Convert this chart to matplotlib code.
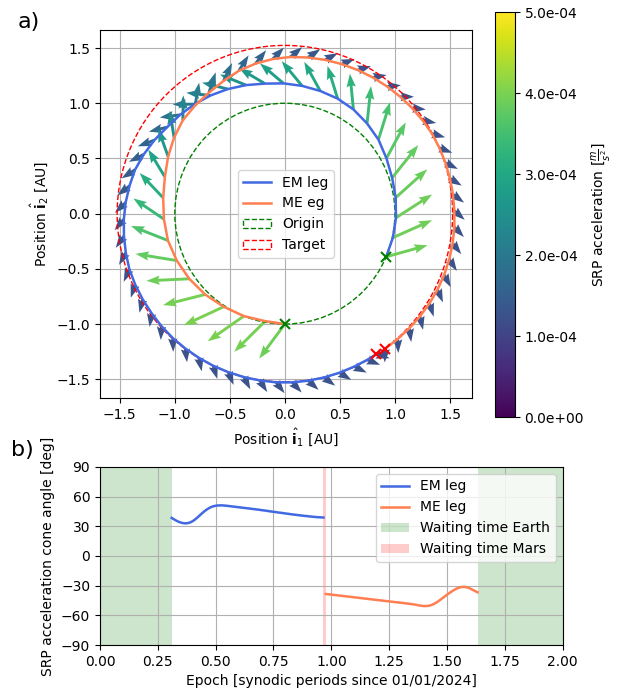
import numpy as np
import matplotlib
matplotlib.use("Agg")
import matplotlib.pyplot as plt
from matplotlib.lines import Line2D

# Earth -> Mars leg, sampled at equal time steps (polar angle [deg], radius [AU])
em_theta = [-23.0, -12.5, -2.1, 8.2, 18.4, 28.5, 38.3, 47.6, 56.6, 65.3, 73.9, 82.3,
            90.6, 98.8, 106.9, 114.7, 122.3, 129.6, 136.8, 143.8, 150.7, 157.3, 163.7, 169.9,
            176.0, 182.0, 187.9, 193.8, 199.6, 205.3, 211.0, 216.7, 222.3, 227.9, 233.5, 239.1,
            244.7, 250.3, 255.9, 261.4, 267.0, 272.5, 278.0, 283.5, 289.0, 294.5, 299.5, 303.2]
em_r = [1.000, 1.005, 1.010, 1.017, 1.027, 1.050, 1.083, 1.107, 1.131, 1.147, 1.157, 1.168,
        1.180, 1.192, 1.217, 1.242, 1.266, 1.287, 1.307, 1.326, 1.360, 1.390, 1.418, 1.434,
        1.450, 1.464, 1.476, 1.488, 1.500, 1.504, 1.507, 1.510, 1.515, 1.519, 1.520, 1.522,
        1.524, 1.525, 1.527, 1.528, 1.530, 1.530, 1.528, 1.526, 1.524, 1.522, 1.521, 1.520]
em_cone = [38.5, 36.5, 34.8, 33.6, 33.0, 33.2, 34.3, 36.3, 39.0, 42.0, 44.9, 47.3,
           49.2, 50.4, 51.0, 51.2, 51.1, 50.8, 50.4, 50.0, 49.6, 49.2, 48.8, 48.4,
           48.0, 47.6, 47.2, 46.8, 46.3, 45.9, 45.4, 44.9, 44.5, 44.0, 43.6, 43.1,
           42.7, 42.2, 41.8, 41.4, 41.0, 40.6, 40.3, 39.9, 39.6, 39.3, 39.1, 38.9]
em_acc = [3.9, 3.9, 3.9, 3.85, 3.8, 3.7, 3.55, 3.4, 3.25, 3.1, 3.0, 2.9,
          2.8, 2.7, 2.55, 2.4, 2.2, 2.0, 1.85, 1.7, 1.6, 1.5, 1.45, 1.4,
          1.35, 1.3, 1.3, 1.25, 1.25, 1.25, 1.25, 1.25, 1.25, 1.25, 1.25, 1.25,
          1.25, 1.25, 1.25, 1.25, 1.25, 1.25, 1.25, 1.25, 1.25, 1.25, 1.25, 1.25]

# Mars -> Earth leg
me_theta = [-53.3, -48.0, -42.6, -37.2, -31.8, -26.4, -21.0, -15.5, -10.0, -4.5, 1.0, 6.5,
            12.0, 17.5, 23.0, 28.5, 34.0, 39.6, 45.3, 51.1, 57.0, 63.0, 69.1, 75.3,
            81.6, 88.0, 94.5, 101.1, 107.9, 114.9, 122.2, 129.8, 137.6, 145.6, 154.0, 163.0,
            172.6, 182.6, 192.9, 203.4, 214.2, 225.3, 236.6, 248.1, 259.6, 270.0]
me_r = [1.525, 1.530, 1.535, 1.540, 1.545, 1.548, 1.550, 1.550, 1.548, 1.545, 1.540, 1.537,
        1.533, 1.530, 1.525, 1.520, 1.510, 1.500, 1.490, 1.480, 1.470, 1.460, 1.450, 1.440,
        1.430, 1.420, 1.405, 1.385, 1.360, 1.325, 1.295, 1.275, 1.255, 1.220, 1.180, 1.140,
        1.115, 1.100, 1.090, 1.070, 1.050, 1.030, 1.010, 1.000, 0.990, 1.000]
me_cone = [-38.4, -38.8, -39.2, -39.6, -40.0, -40.4, -40.8, -41.2, -41.6, -42.0, -42.4, -42.8,
           -43.2, -43.6, -44.0, -44.4, -44.8, -45.2, -45.6, -46.0, -46.4, -46.8, -47.2, -47.6,
           -48.0, -48.4, -48.9, -49.5, -50.2, -50.6, -50.6, -50.0, -48.6, -46.6, -44.2, -41.6,
           -39.0, -36.6, -34.4, -32.6, -31.5, -31.2, -31.8, -33.2, -35.0, -36.7]
me_acc = [1.25, 1.25, 1.25, 1.25, 1.25, 1.25, 1.25, 1.25, 1.25, 1.25, 1.25, 1.25,
          1.25, 1.25, 1.25, 1.25, 1.25, 1.25, 1.25, 1.25, 1.25, 1.25, 1.25, 1.3,
          1.35, 1.4, 1.45, 1.55, 1.65, 1.8, 1.95, 2.1, 2.25, 2.45, 2.65, 2.9,
          3.1, 3.35, 3.6, 3.8, 3.9, 3.95, 4.0, 4.0, 3.95, 3.9]

# epochs in synodic periods since 01/01/2024
em_start, em_end = 0.310, 0.966
me_start, me_end = 0.976, 1.632
em_epoch = np.linspace(em_start, em_end, len(em_theta))
me_epoch = np.linspace(me_start, me_end, len(me_theta))

r_origin = 1.0
r_target = 1.524


def leg(theta, r, cone, acc):
    th = np.radians(theta)
    r = np.array(r)
    a = np.array(acc) * 1e-4
    d = th + np.radians(cone)
    return r*np.cos(th), r*np.sin(th), a*np.cos(d), a*np.sin(d), a


fig = plt.figure(figsize=(6.17, 6.94), dpi=100)
ax = fig.add_axes([0.162, 0.4265, 0.603, 0.5305])
cax = fig.add_axes([0.802, 0.399, 0.0324, 0.5836])
ax2 = fig.add_axes([0.162, 0.0706, 0.750, 0.2565])

ex, ey, eu, ev, ea = leg(em_theta, em_r, em_cone, em_acc)
mx, my, mu, mv, ma = leg(me_theta, me_r, me_cone, me_acc)

qk = dict(cmap="viridis", clim=(0, 5e-4), angles="xy", scale_units="xy", scale=1.0e-3,
          width=0.0078, headwidth=3.2, headlength=4.6, headaxislength=4.1, zorder=2)
q = ax.quiver(ex, ey, eu, ev, ea, **qk)
ax.quiver(mx, my, mu, mv, ma, **qk)

ax.add_patch(plt.Circle((0, 0), r_origin, fill=False, ls="--", ec="green", lw=1, zorder=2))
ax.add_patch(plt.Circle((0, 0), r_target, fill=False, ls="--", ec="red", lw=1, zorder=2))
ax.plot(ex, ey, color="royalblue", lw=1.8, zorder=3)
ax.plot(mx, my, color="coral", lw=1.8, zorder=3)
ax.plot([ex[0], mx[-1]], [ey[0], my[-1]], "x", color="green", ms=7, mew=1.5, zorder=4)
ax.plot([ex[-1], mx[0]], [ey[-1], my[0]], "x", color="red", ms=7, mew=1.5, zorder=4)

ax.set_xlim(-1.68, 1.70)
ax.set_ylim(-1.67, 1.665)
ax.set_xticks([-1.5, -1.0, -0.5, 0.0, 0.5, 1.0, 1.5])
ax.set_yticks([-1.5, -1.0, -0.5, 0.0, 0.5, 1.0, 1.5])
ax.grid(True)
ax.set_axisbelow(True)
ax.set_xlabel(r"Position $\hat{\mathbf{i}}_1$ [AU]")
ax.set_ylabel(r"Position $\hat{\mathbf{i}}_2$ [AU]")
handles = [Line2D([], [], color="royalblue", lw=1.8), Line2D([], [], color="coral", lw=1.8),
           plt.Circle((0, 0), 1, fill=False, ls="--", ec="green"),
           plt.Circle((0, 0), 1, fill=False, ls="--", ec="red")]
ax.legend(handles, ["EM leg", "ME eg", "Origin", "Target"], loc="center")

cb = fig.colorbar(q, cax=cax, format="%.1e")
cb.set_ticks([0, 1e-4, 2e-4, 3e-4, 4e-4, 5e-4])
cb.set_label(r"SRP acceleration $[\frac{m}{s^2}]$")

ax2.axvspan(0, em_start, color="green", alpha=0.2, lw=0, label="Waiting time Earth")
ax2.axvspan(me_end, 2.0, color="green", alpha=0.2, lw=0)
ax2.axvspan(em_end, me_start, color="red", alpha=0.2, lw=0, label="Waiting time Mars")
ax2.plot(em_epoch, em_cone, color="royalblue", lw=1.8, label="EM leg")
ax2.plot(me_epoch, me_cone, color="coral", lw=1.8, label="ME leg")
ax2.set_xlim(0, 2)
ax2.set_ylim(-90, 90)
ax2.set_yticks(np.arange(-90, 91, 30))
ax2.grid(True)
ax2.set_xlabel("Epoch [synodic periods since 01/01/2024]")
ax2.set_ylabel("SRP acceleration cone angle [deg]")
h, l = ax2.get_legend_handles_labels()
order = [2, 3, 0, 1]
ax2.legend([h[i] for i in order], [l[i] for i in order], loc="upper right")

fig.text(0.028, 0.968, "a)", fontsize=16, va="center")
fig.text(0.018, 0.352, "b)", fontsize=16, va="center")

fig.savefig("out.png", dpi=100)
